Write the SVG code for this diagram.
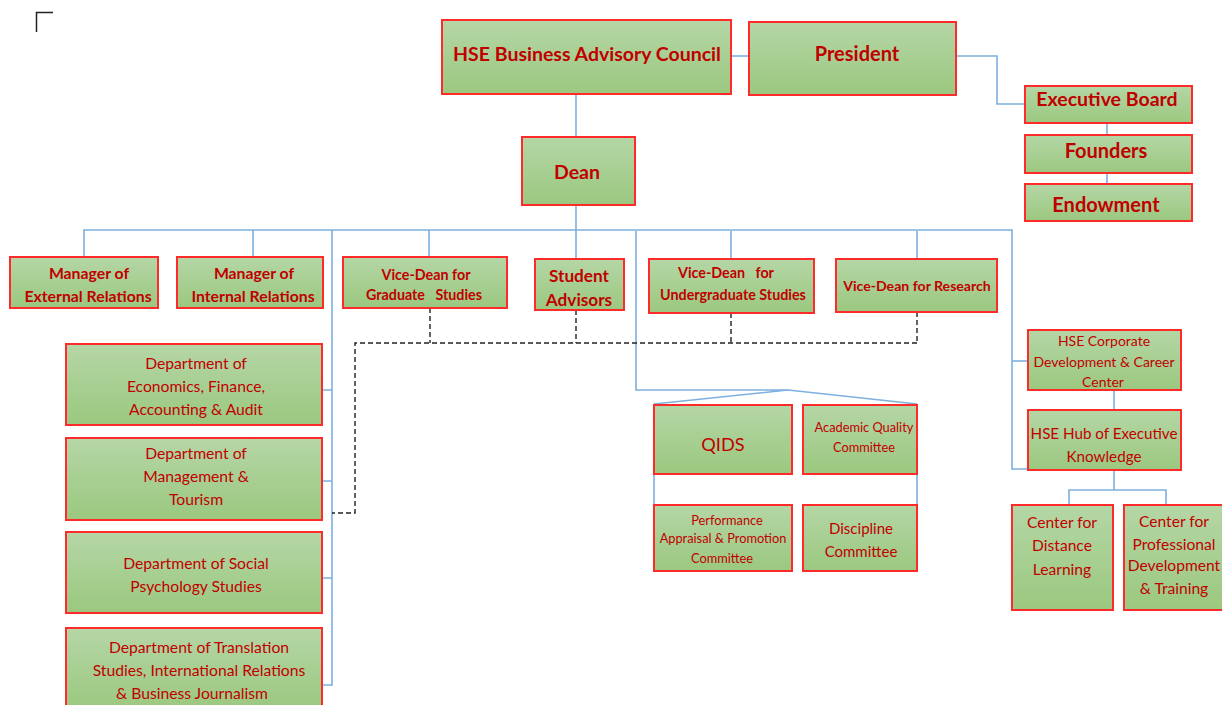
<svg xmlns="http://www.w3.org/2000/svg" width="1222" height="705" viewBox="0 0 1222 705">
<defs>
<linearGradient id="g" x1="0" y1="0" x2="0" y2="1">
<stop offset="0" stop-color="#b5d6a6"/>
<stop offset="1" stop-color="#9bc87f"/>
</linearGradient>
<style>
.box{fill:url(#g);stroke:#ff2a2a;stroke-width:2}
.t{font-family:Lato,"Liberation Sans",sans-serif;fill:#c00000;text-anchor:middle;dominant-baseline:central}
.b{font-weight:bold}
.c{fill:none;stroke:#7eb0e0;stroke-width:1.6}
.d{fill:none;stroke:#222;stroke-width:1.4;stroke-dasharray:5 3}
</style>
</defs>
<rect width="1222" height="705" fill="#fff"/>
<path d="M36.5 32 V12.5 H53" fill="none" stroke="#222" stroke-width="1.5"/>

<g id="connectors">
<path class="c" d="M731 56 H749"/>
<path class="c" d="M956 56 H997 V104 H1025"/>
<path class="c" d="M1107 123 V135 M1107 173 V184"/>
<path class="c" d="M576 94 V137"/>
<path class="c" d="M576 205 V231"/>
<path class="c" d="M84 257 V230 H1012 V469 H1028"/>
<path class="c" d="M1012 361 H1028"/>
<path class="c" d="M253 230 V257 M429 230 V257 M576 231 V259 M731 231 V259 M917 231 V259"/>
<path class="c" d="M332 230 V685 H322 M322 390 H332 M322 481 H332 M322 578 H332"/>
<path class="c" d="M636 231 V390 H788 L654 404 M788 390 L917 404"/>
<path class="c" d="M654 474 V505 M917 474 V505"/>
<path class="c" d="M1114 390 V410 M1114 470 V490 M1069 505 V490 H1166 V505"/>
<path class="d" d="M430 308 V343 M576 310 V343 M731 313 V343 M917 312 V343 M917 343 H355 V513 H332"/>
</g>

<g id="bac"><rect class="box" x="442" y="20" width="289" height="74"/><text class="t b" x="587" y="53" font-size="19.5">HSE Business Advisory Council</text></g>
<g id="president"><rect class="box" x="749" y="22" width="207" height="73"/><text class="t b" x="857" y="53" font-size="20">President</text></g>
<g id="exec"><rect class="box" x="1025" y="86" width="167" height="37"/><text class="t b" x="1107" y="98" font-size="19.5">Executive Board</text></g>
<g id="founders"><rect class="box" x="1025" y="135" width="167" height="38"/><text class="t b" x="1106" y="150" font-size="20">Founders</text></g>
<g id="endowment"><rect class="box" x="1025" y="184" width="167" height="37"/><text class="t b" x="1106" y="204" font-size="20">Endowment</text></g>
<g id="dean"><rect class="box" x="522" y="137" width="113" height="68"/><text class="t b" x="577" y="171" font-size="19.5">Dean</text></g>

<g id="mer"><rect class="box" x="10" y="257" width="148" height="51"/><text class="t b" font-size="15.8"><tspan x="89" y="272">Manager of</tspan><tspan x="88" y="295">External Relations</tspan></text></g>
<g id="mir"><rect class="box" x="177" y="257" width="146" height="51"/><text class="t b" font-size="15.8"><tspan x="254" y="272">Manager of</tspan><tspan x="253" y="295">Internal Relations</tspan></text></g>
<g id="vdg"><rect class="box" x="343" y="257" width="164" height="51"/><text class="t b" font-size="14.3"><tspan x="426" y="274">Vice-Dean for</tspan><tspan x="424" y="294" xml:space="preserve">Graduate   Studies</tspan></text></g>
<g id="sa"><rect class="box" x="535" y="259" width="89" height="51"/><text class="t b" font-size="17.2"><tspan x="579" y="275">Student</tspan><tspan x="579" y="299">Advisors</tspan></text></g>
<g id="vdu"><rect class="box" x="649" y="259" width="165" height="54"/><text class="t b" font-size="14.3"><tspan x="726" y="272" xml:space="preserve">Vice-Dean   for</tspan><tspan x="733" y="294">Undergraduate Studies</tspan></text></g>
<g id="vdr"><rect class="box" x="836" y="259" width="161" height="53"/><text class="t b" x="917" y="285" font-size="14.1">Vice-Dean for Research</text></g>

<g id="dept1"><rect class="box" x="66" y="344" width="256" height="81"/><text class="t" font-size="15.7"><tspan x="196" y="363">Department of</tspan><tspan x="196" y="386">Economics, Finance,</tspan><tspan x="196" y="409">Accounting &amp; Audit</tspan></text></g>
<g id="dept2"><rect class="box" x="66" y="438" width="256" height="82"/><text class="t" font-size="15.7"><tspan x="196" y="453">Department of</tspan><tspan x="196" y="476">Management &amp;</tspan><tspan x="196" y="499">Tourism</tspan></text></g>
<g id="dept3"><rect class="box" x="66" y="532" width="256" height="81"/><text class="t" font-size="15.7"><tspan x="196" y="563">Department of Social</tspan><tspan x="196" y="586">Psychology Studies</tspan></text></g>
<g id="dept4"><rect class="box" x="66" y="628" width="256" height="82"/><text class="t" font-size="15.7"><tspan x="199" y="647">Department of Translation</tspan><tspan x="199" y="670">Studies, International Relations</tspan><tspan x="192" y="693">&amp; Business Journalism</tspan></text></g>

<g id="qids"><rect class="box" x="654" y="405" width="138" height="69"/><text class="t" x="723" y="444" font-size="18.2">QIDS</text></g>
<g id="aqc"><rect class="box" x="803" y="405" width="114" height="69"/><text class="t" font-size="12.8"><tspan x="864" y="427">Academic Quality</tspan><tspan x="864" y="447">Committee</tspan></text></g>
<g id="pap"><rect class="box" x="654" y="505" width="138" height="66"/><text class="t" font-size="12.8"><tspan x="727" y="520">Performance</tspan><tspan x="723" y="538">Appraisal &amp; Promotion</tspan><tspan x="722" y="558">Committee</tspan></text></g>
<g id="dc"><rect class="box" x="803" y="505" width="114" height="66"/><text class="t" font-size="15"><tspan x="861" y="528">Discipline</tspan><tspan x="861" y="551">Committee</tspan></text></g>

<g id="corp"><rect class="box" x="1028" y="330" width="153" height="60"/><text class="t" font-size="14"><tspan x="1104" y="340">HSE Corporate</tspan><tspan x="1104" y="361">Development &amp; Career</tspan><tspan x="1103" y="381">Center</tspan></text></g>
<g id="hub"><rect class="box" x="1028" y="410" width="153" height="60"/><text class="t" font-size="15.2"><tspan x="1104" y="433">HSE Hub of Executive</tspan><tspan x="1104" y="456">Knowledge</tspan></text></g>
<g id="cdl"><rect class="box" x="1012" y="505" width="101" height="105"/><text class="t" font-size="15.6"><tspan x="1062" y="522">Center for</tspan><tspan x="1062" y="545">Distance</tspan><tspan x="1062" y="569">Learning</tspan></text></g>
<g id="cpd"><rect class="box" x="1124" y="505" width="99" height="105"/><text class="t" font-size="15.6"><tspan x="1174" y="521">Center for</tspan><tspan x="1174" y="544">Professional</tspan><tspan x="1174" y="565">Development</tspan><tspan x="1174" y="588">&amp; Training</tspan></text></g>
</svg>
